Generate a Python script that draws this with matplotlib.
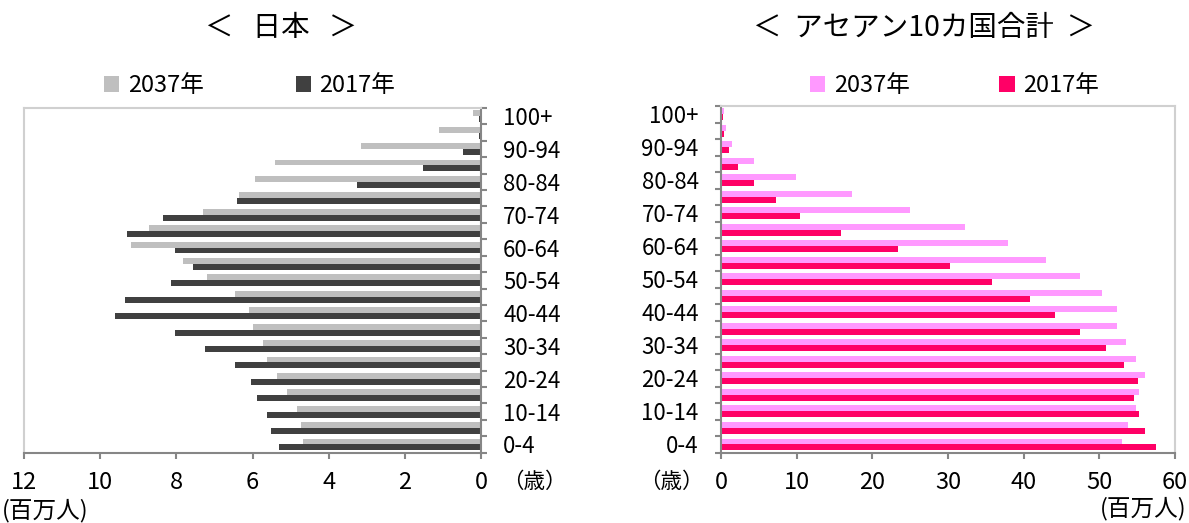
import matplotlib
matplotlib.use("Agg")
import matplotlib.pyplot as plt
import numpy as np

plt.rcParams['font.family'] = ['Noto Sans CJK JP', 'DejaVu Sans']

# Age groups, youngest first
age_groups = ["0-4", "5-9", "10-14", "15-19", "20-24", "25-29", "30-34", "35-39",
              "40-44", "45-49", "50-54", "55-59", "60-64", "65-69", "70-74",
              "75-79", "80-84", "85-89", "90-94", "95-99", "100+"]

# Japan population by age group (millions)
japan_2037 = [4.67, 4.72, 4.83, 5.09, 5.35, 5.61, 5.72, 5.98, 6.09, 6.45, 7.19,
              7.82, 9.18, 8.71, 7.30, 6.35, 5.93, 5.40, 3.15, 1.09, 0.20]
japan_2017 = [5.30, 5.51, 5.61, 5.88, 6.03, 6.45, 7.24, 8.03, 9.61, 9.35, 8.14,
              7.56, 8.03, 9.29, 8.35, 6.40, 3.26, 1.52, 0.47, 0.06, 0.05]

# ASEAN-10 total population by age group (millions)
asean_2037 = [53.0, 53.8, 54.8, 55.3, 56.1, 54.8, 53.5, 52.4, 52.4, 50.3, 47.4,
              42.9, 37.9, 32.3, 25.0, 17.3, 9.9, 4.4, 1.5, 0.7, 0.4]
asean_2017 = [57.5, 56.1, 55.3, 54.6, 55.1, 53.2, 50.9, 47.4, 44.2, 40.8, 35.8,
              30.2, 23.4, 15.8, 10.5, 7.3, 4.4, 2.3, 1.0, 0.4, 0.3]

series_labels = ["2037年", "2017年"]
japan_ticks = [0, 2, 4, 6, 8, 10, 12]
asean_ticks = [0, 10, 20, 30, 40, 50, 60]

W, H = 1189, 523
fig = plt.figure(figsize=(W / 100, H / 100), dpi=100)


def fx(x):
    return x / W


def fy(y):
    return 1 - y / H


AXIS_GREY = "#868686"
FRAME_GREY = "#D0D0D0"
TICK_FS = 16
XTICK_FS = 17

y = np.arange(len(age_groups))
bar_h = 0.36
label_idx = list(range(0, len(age_groups), 2))


def style_axes(ax, side):
    ax.set_ylim(-0.5, len(age_groups) - 0.5)
    # category labels every other group, boundary tick marks in between
    ax.set_yticks(label_idx)
    ax.set_yticklabels([age_groups[i] for i in label_idx], fontsize=TICK_FS)
    ax.set_yticks(np.arange(-0.5, len(age_groups), 1), minor=True)
    ax.tick_params(axis="y", which="major", length=0, pad=16)
    ax.tick_params(axis="y", which="minor", length=4.5, width=1.5, color=AXIS_GREY,
                   direction="out")
    ax.tick_params(axis="x", length=4.5, width=1.5, color=AXIS_GREY,
                   labelsize=XTICK_FS, pad=9)
    for s in ax.spines.values():
        s.set_linewidth(1.5)
    ax.spines["bottom"].set_color(AXIS_GREY)
    if side == "right":
        ax.yaxis.tick_right()
        ax.spines["right"].set_color(AXIS_GREY)
        ax.spines["left"].set_color(FRAME_GREY)
        ax.spines["top"].set_color(FRAME_GREY)
    else:
        ax.spines["left"].set_color(AXIS_GREY)
        ax.spines["right"].set_color(FRAME_GREY)
        ax.spines["top"].set_color(FRAME_GREY)


# Japan pyramid half (bars grow leftwards)
ax1 = fig.add_axes([fx(24), fy(452.7), fx(481 - 24), (452.7 - 108) / H])
b1 = ax1.barh(y + bar_h / 2, japan_2037, height=bar_h, color="#BFBFBF")
b2 = ax1.barh(y - bar_h / 2, japan_2017, height=bar_h, color="#404040")
ax1.set_xlim(12, 0)
ax1.set_xticks(japan_ticks)
style_axes(ax1, "right")
ax1.legend([b1, b2], series_labels, loc="center left", ncol=2, frameon=False,
           bbox_to_anchor=(fx(104), fy(86)), bbox_transform=fig.transFigure,
           fontsize=17, handlelength=0.65, handleheight=0.65, handletextpad=0.35,
           columnspacing=3.9, borderaxespad=0, borderpad=0)

# ASEAN pyramid half
ax2 = fig.add_axes([fx(721), fy(452.7), fx(1175 - 721), (452.7 - 106) / H])
b3 = ax2.barh(y + bar_h / 2, asean_2037, height=bar_h, color="#FF99FF")
b4 = ax2.barh(y - bar_h / 2, asean_2017, height=bar_h, color="#FF0066")
ax2.set_xlim(0, 60)
ax2.set_xticks(asean_ticks)
style_axes(ax2, "left")
ax2.legend([b3, b4], series_labels, loc="center left", ncol=2, frameon=False,
           bbox_to_anchor=(fx(810), fy(86)), bbox_transform=fig.transFigure,
           fontsize=17, handlelength=0.65, handleheight=0.65, handletextpad=0.35,
           columnspacing=3.8, borderaxespad=0, borderpad=0)

# Titles
fig.text(fx(281), fy(28), "＜   日本   ＞", fontsize=20.5, ha="center", va="center")
fig.text(fx(924), fy(28), "＜  アセアン10カ国合計  ＞", fontsize=20.5, ha="center",
         va="center")

# Unit labels
fig.text(fx(502), fy(482), "（歳）", fontsize=15.5, ha="left", va="center")
fig.text(fx(2), fy(511), "(百万人)", fontsize=17, ha="left", va="center")
fig.text(fx(704), fy(482), "（歳）", fontsize=15.5, ha="right", va="center")
fig.text(fx(1187), fy(509), "(百万人)", fontsize=17, ha="right", va="center")

fig.savefig("out.png", dpi=100)
